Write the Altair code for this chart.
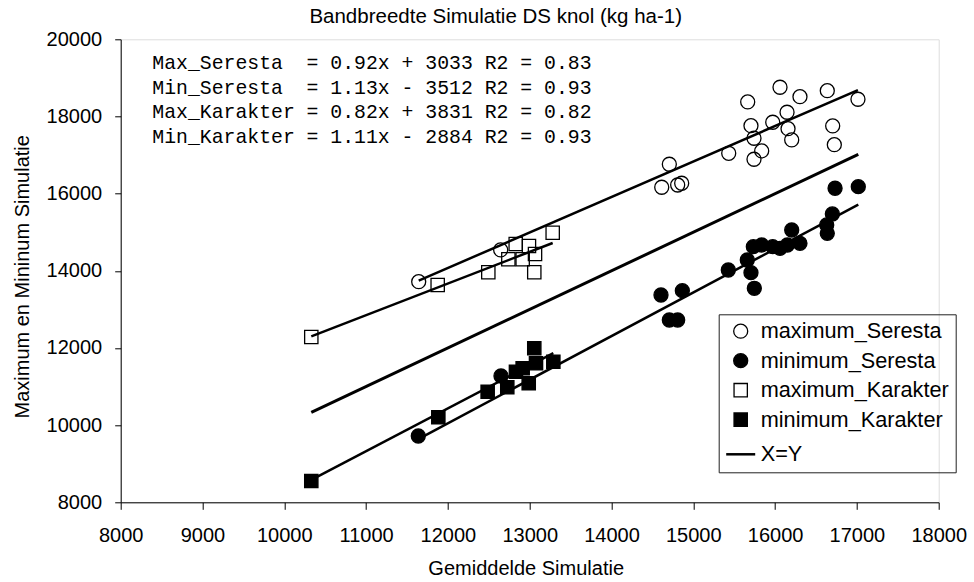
import altair as alt
import pandas as pd

# Series names (legend order)
series_names = ["maximum_Seresta", "minimum_Seresta", "maximum_Karakter", "minimum_Karakter", "X=Y"]

# Seresta: mean simulation (x) vs. maximum / minimum simulation (y), kg ha-1
max_seresta_x = [11643, 12645, 14614, 14707, 14809, 14858, 15433, 15665, 15705, 15742, 15742,
                 15836, 15971, 16060, 16146, 16158, 16203, 16304, 16638, 16704, 16724, 17013]
max_seresta_y = [13718, 14540, 16165, 16761, 16224, 16269, 17046, 18376, 17762, 17435, 16891,
                 17106, 17850, 18757, 18109, 17684, 17391, 18513, 18669, 17754, 17269, 18446]
min_seresta_x = [11638, 12649, 14605, 14707, 14809, 14866, 15428, 15660, 15705, 15746, 15734,
                 15836, 15971, 16060, 16150, 16203, 16304, 16631, 16638, 16700, 16733, 17017]
min_seresta_y = [9718, 11274, 13373, 12725, 12725, 13485, 14021, 14280, 13951, 13547, 14625,
                 14669, 14625, 14583, 14669, 15058, 14713, 15188, 14972, 15473, 16139, 16180]

# Karakter
max_karakter_x = [10330, 11875, 12494, 12739, 12829, 12914, 12991, 13065, 13056, 13281]
max_karakter_y = [12285, 13632, 13961, 14298, 14695, 14298, 14643, 14436, 13961, 14988]
min_karakter_x = [10330, 11883, 12486, 12726, 12832, 12914, 12988, 13056, 13077, 13289]
min_karakter_y = [8552, 10203, 10867, 10981, 11385, 11473, 11084, 11992, 11603, 11644]

# Linear fits: name, slope, intercept, R2
fit_names = ["Max_Seresta", "Min_Seresta", "Max_Karakter", "Min_Karakter"]
fit_slopes = [0.92, 1.13, 0.82, 1.11]
fit_intercepts = [3033, -3512, 3831, -2884]
fit_r2 = [0.83, 0.93, 0.82, 0.93]

title_text = "Bandbreedte Simulatie DS knol (kg ha-1)"
x_title = "Gemiddelde Simulatie"
y_title = "Maximum en Mininum Simulatie"

FONT = "Liberation Sans"
MONO = "Liberation Mono"

# ---- tables -------------------------------------------------------------
xs_list = [max_seresta_x, min_seresta_x, max_karakter_x, min_karakter_x]
ys_list = [max_seresta_y, min_seresta_y, max_karakter_y, min_karakter_y]

pts = pd.DataFrame(
    [{"series": s, "x": x, "y": y}
     for s, xs, ys in zip(series_names[:4], xs_list, ys_list)
     for x, y in zip(xs, ys)]
)

fit_rows = []
for name, a, b, xs in zip(fit_names, fit_slopes, fit_intercepts, xs_list):
    for x in (min(xs), max(xs)):
        fit_rows.append({"fit": name, "x": x, "y": a * x + b})
fits = pd.DataFrame(fit_rows)

all_x = [x for xs in xs_list for x in xs]
identity = pd.DataFrame({"x": [min(all_x), max(all_x)], "y": [min(all_x), max(all_x)]})

NB = "\u00a0"
eq_lines = []
for name, a, b, r2 in zip(fit_names, fit_slopes, fit_intercepts, fit_r2):
    sign = "+" if b >= 0 else "-"
    line = f"{name:<13}= {a:.2f}x {sign} {abs(b)} R2 = {r2:.2f}"
    eq_lines.append(line.replace(" ", NB))

# ---- scales ---------------------------------------------------------------
xscale = alt.Scale(domain=[8000, 18000], nice=False, zero=False)
yscale = alt.Scale(domain=[8000, 20000], nice=False, zero=False)

x_axis = alt.Axis(
    values=list(range(8000, 18001, 1000)), format="d", grid=False,
    labelOverlap=False, labelFlush=False,
    tickSize=7, labelPadding=16, labelFont=FONT, labelFontSize=20, labelColor="black",
    domainColor="black", tickColor="black", title=x_title, titleFont=FONT,
    titleFontSize=20, titleFontWeight="normal", titleColor="black",
    titleX=405, titleY=66, titleBaseline="middle", titleAlign="center",
)
y_axis = alt.Axis(
    values=list(range(8000, 20001, 2000)), format="d", grid=False,
    labelOverlap=False, labelFlush=False,
    tickSize=6, labelPadding=13, labelFont=FONT, labelFontSize=20, labelColor="black",
    domainColor="black", tickColor="black", title=y_title, titleFont=FONT,
    titleFontSize=20, titleFontWeight="normal", titleColor="black",
    titleX=-98, titleY=237, titleAngle=270, titleBaseline="middle", titleAlign="center",
)

X = alt.X("x:Q", scale=xscale, axis=x_axis)
Y = alt.Y("y:Q", scale=yscale, axis=y_axis)

legend = alt.Legend(
    title=None, orient="none", legendX=598, legendY=275,
    strokeColor="#222222", padding=6, rowPadding=6.5, labelOffset=4, labelLimit=0,
    labelFont=FONT, labelFontSize=21.7, labelColor="black",
    symbolOpacity=1,
)

points = alt.Chart(pts).mark_point(
    filled=True, opacity=1, fillOpacity=1, strokeOpacity=1
).encode(
    x=X, y=Y,
    shape=alt.Shape("series:N", scale=alt.Scale(
        domain=series_names, range=["circle", "circle", "square", "square", "stroke"]), legend=legend),
    fill=alt.Fill("series:N", scale=alt.Scale(
        domain=series_names, range=["transparent", "black", "transparent", "black", "transparent"]),
        legend=legend),
    stroke=alt.Stroke("series:N", scale=alt.Scale(
        domain=series_names, range=["black"] * 5), legend=legend),
    size=alt.Size("series:N", scale=alt.Scale(
        type="ordinal", domain=series_names, range=[196, 196, 177, 177, 841]), legend=legend),
    strokeWidth=alt.StrokeWidth("series:N", scale=alt.Scale(
        type="ordinal", domain=series_names, range=[1.3, 1.3, 1.3, 1.3, 2.5]), legend=legend),
)

fit_lines = alt.Chart(fits).mark_line(color="black", strokeWidth=2.5).encode(
    x=X, y=Y, detail="fit:N"
)
identity_line = alt.Chart(identity).mark_line(color="black", strokeWidth=3).encode(x=X, y=Y)

equations = alt.Chart(pd.DataFrame({"t": [0]})).mark_text(
    align="left", baseline="alphabetic", font=MONO, fontSize=19.8, lineHeight=24.7, color="black"
).encode(x=alt.value(31.6), y=alt.value(29.7), text=alt.value(eq_lines))

title = alt.Chart(pd.DataFrame({"t": [title_text]})).mark_text(
    align="center", baseline="alphabetic", font=FONT, fontSize=20.5, color="black"
).encode(x=alt.value(375), y=alt.value(-16.6), text="t:N")

chart = alt.layer(identity_line, fit_lines, points, equations, title).properties(
    width=818, height=463,
    padding={"left": 120.7, "top": 39.3, "right": 35.3, "bottom": 79.7},
    autosize=alt.AutoSizeParams(type="none"),
).configure_view(stroke=None).configure(background="white")

chart.save("out.html", embed_options={"renderer": "svg", "actions": False})
